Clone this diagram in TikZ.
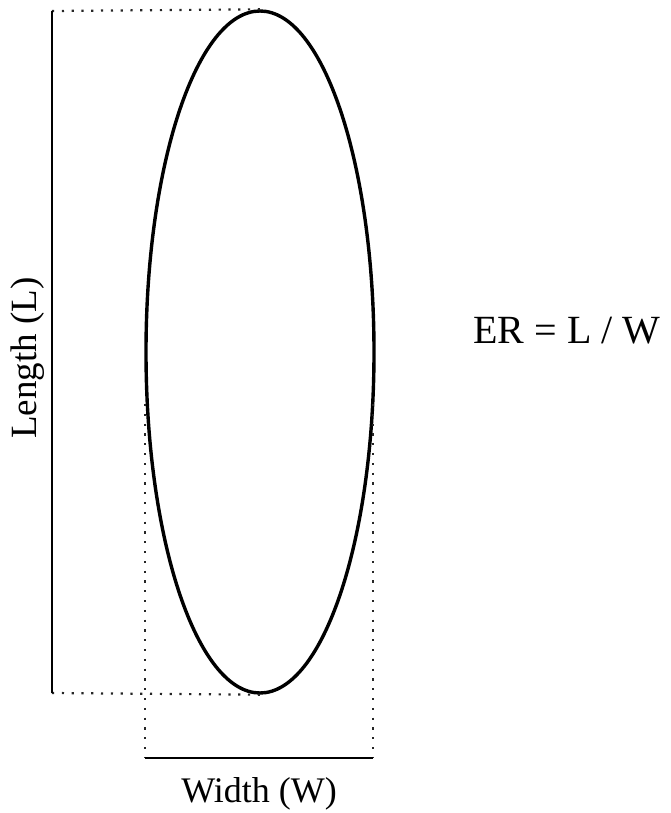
\documentclass[tikz,border=0pt]{standalone}
\usepackage{fontspec}
\setmainfont{Liberation Serif}
\usepackage{tikz}
\usetikzlibrary{shapes.geometric,positioning,calc}

\begin{document}
\begin{tikzpicture}[x=1pt, y=-1pt]
        \useasboundingbox (0,0) rectangle (671,813);
        \tikzset{dotline/.style={line width=2.2pt, dash pattern=on 2.2pt off 7.6pt, color=black!85}}

        % the ellipse
        \node[draw, ellipse, line width=3.4pt, minimum width=228pt, minimum height=682pt, inner sep=0pt] (blob) at (260, 352) {};

        % length side
        \coordinate (lentop) at (52, 11);
        \coordinate (lenbot) at (52, 693);
        \draw[dotline] (lentop) -- (blob.north);
        \draw[dotline] (lenbot) -- (blob.south);
        \draw[line width=2pt] (lentop) -- (lenbot);
        \node[font=\fontsize{37}{40}\selectfont, rotate=90] (lenlabel) at (28, 358) {Length (L)};

        % width side
        \coordinate (wleft) at (145, 758);
        \coordinate (wright) at (373, 758);
        \draw[dotline] (145, 404) -- (wleft);
        \draw[dotline] (373, 404) -- (wright);
        \draw[line width=2pt] (wleft) -- (wright);
        \node[font=\fontsize{36}{40}\selectfont] (wlabel) at (259, 794) {Width (W)};

        % ratio
        \node[font=\fontsize{40}{42}\selectfont] (ratio) at (567, 331) {ER = L / W};
    \end{tikzpicture}
\end{document}
